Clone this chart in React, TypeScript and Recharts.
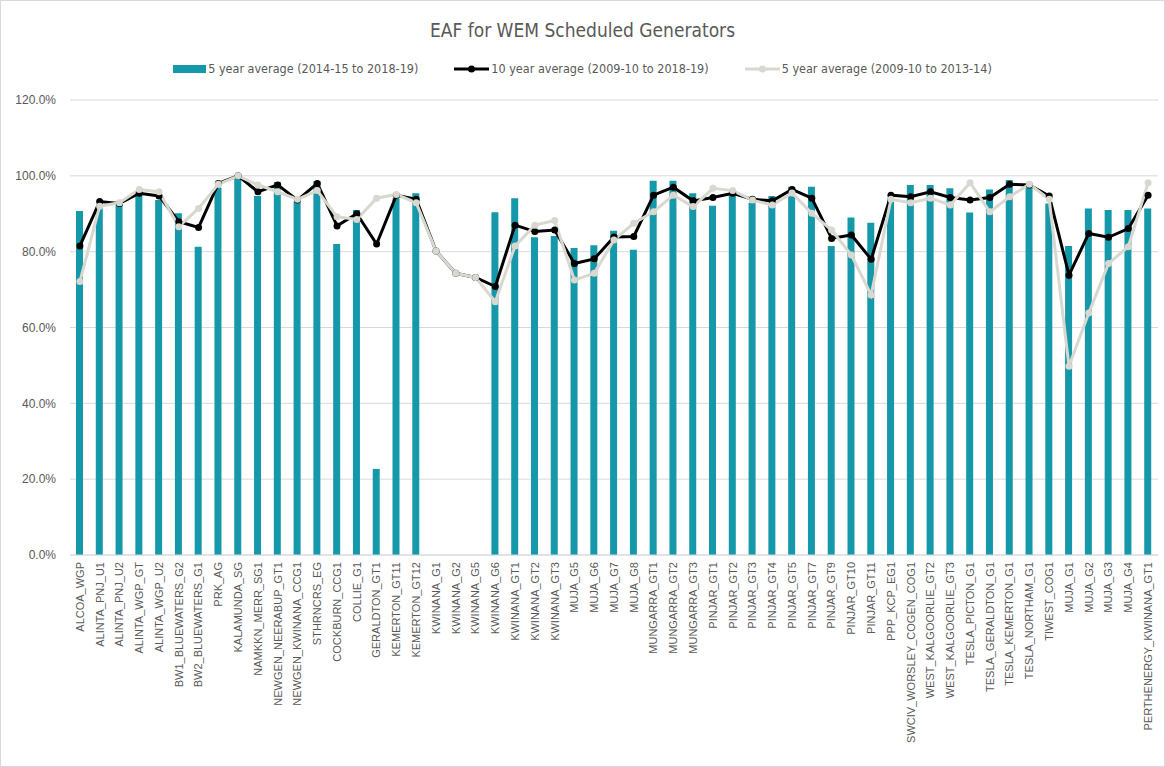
import React from 'react';
import {
  ComposedChart,
  Bar,
  Line,
  XAxis,
  YAxis,
  CartesianGrid,
} from 'recharts';

// Generator names along the x axis
const generators = [
  'ALCOA_WGP', 'ALINTA_PNJ_U1', 'ALINTA_PNJ_U2', 'ALINTA_WGP_GT', 'ALINTA_WGP_U2',
  'BW1_BLUEWATERS_G2', 'BW2_BLUEWATERS_G1', 'PRK_AG', 'KALAMUNDA_SG', 'NAMKKN_MERR_SG1',
  'NEWGEN_NEERABUP_GT1', 'NEWGEN_KWINANA_CCG1', 'STHRNCRS_EG', 'COCKBURN_CCG1', 'COLLIE_G1',
  'GERALDTON_GT1', 'KEMERTON_GT11', 'KEMERTON_GT12', 'KWINANA_G1', 'KWINANA_G2',
  'KWINANA_G5', 'KWINANA_G6', 'KWINANA_GT1', 'KWINANA_GT2', 'KWINANA_GT3',
  'MUJA_G5', 'MUJA_G6', 'MUJA_G7', 'MUJA_G8', 'MUNGARRA_GT1',
  'MUNGARRA_GT2', 'MUNGARRA_GT3', 'PINJAR_GT1', 'PINJAR_GT2', 'PINJAR_GT3',
  'PINJAR_GT4', 'PINJAR_GT5', 'PINJAR_GT7', 'PINJAR_GT9', 'PINJAR_GT10',
  'PINJAR_GT11', 'PPP_KCP_EG1', 'SWCIV_WORSLEY_COGEN_COG1', 'WEST_KALGOORLIE_GT2', 'WEST_KALGOORLIE_GT3',
  'TESLA_PICTON_G1', 'TESLA_GERALDTON_G1', 'TESLA_KEMERTON_G1', 'TESLA_NORTHAM_G1', 'TIWEST_COG1',
  'MUJA_G1', 'MUJA_G2', 'MUJA_G3', 'MUJA_G4', 'PERTHENERGY_KWINANA_GT1',
];

// 5 year average (2014-15 to 2018-19), % — bars
const avg5Recent: (number | null)[] = [
  90.7, 92.0, 92.5, 95.4, 93.6,
  90.1, 81.3, 96.9, 99.3, 94.7,
  98.4, 93.2, 98.6, 82.0, 91.0,
  22.7, 94.1, 95.4, null, null,
  null, 90.4, 94.1, 83.8, 84.1,
  81.0, 81.7, 85.5, 80.5, 98.7,
  98.7, 95.4, 92.1, 94.9, 92.9,
  94.7, 97.1, 97.1, 81.5, 89.0,
  87.6, 94.1, 97.6, 97.6, 96.7,
  90.3, 96.4, 98.9, 97.6, 92.7,
  81.5, 91.4, 91.0, 91.0, 91.4,
];

// 10 year average (2009-10 to 2018-19), % — black line
const avg10: number[] = [
  81.5, 93.2, 92.7, 95.4, 94.7,
  87.9, 86.4, 98.0, 100.0, 95.8,
  97.6, 93.6, 98.0, 86.8, 90.0,
  82.0, 94.9, 93.8, 80.2, 74.3,
  73.2, 70.8, 87.0, 85.3, 85.7,
  76.9, 78.1, 83.9, 84.0, 94.9,
  97.0, 93.4, 94.3, 95.4, 93.8,
  93.4, 96.4, 94.1, 83.5, 84.4,
  78.0, 94.9, 94.5, 95.8, 94.3,
  93.6, 94.3, 97.8, 97.6, 94.7,
  73.8, 84.8, 83.8, 86.1, 94.9,
];

// 5 year average (2009-10 to 2013-14), % — grey line
const avg5Early: number[] = [
  72.1, 92.0, 92.9, 96.4, 95.8,
  86.6, 91.4, 97.8, 100.0, 97.6,
  95.8, 93.8, 96.1, 89.2, 88.5,
  94.1, 95.1, 92.9, 80.2, 74.3,
  73.2, 66.8, 81.5, 87.0, 88.2,
  72.5, 74.3, 83.1, 87.5, 90.5,
  94.9, 91.9, 96.7, 96.1, 93.6,
  92.3, 95.5, 90.1, 85.7, 79.1,
  68.6, 93.8, 92.9, 94.1, 92.3,
  98.2, 90.5, 94.5, 97.8, 93.8,
  49.8, 63.8, 76.9, 81.3, 98.2,
];

const yTicks = [0, 20, 40, 60, 80, 100, 120];

const TEAL = '#1598a9';
const BLACK = '#000000';
const GREY = '#d8d7d0';
const TEXT = '#595959';
const NARROW = "'DejaVu Sans Condensed', 'Liberation Sans Narrow', 'Liberation Sans', sans-serif";

const data = generators.map((name, i) => ({
  name,
  recent: avg5Recent[i],
  ten: avg10[i],
  early: avg5Early[i],
}));

const XTick = (props: any) => {
  const { x, y, payload } = props;
  return (
    <g transform={`translate(${x},${y})`}>
      <text
        transform="rotate(-90)"
        textAnchor="end"
        dy="0.35em"
        fill={TEXT}
        fontSize={11}
        fontFamily="'Liberation Sans', Arial, sans-serif"
      >
        {payload.value}
      </text>
    </g>
  );
};

const legendItems = [
  { label: '5 year average (2014-15 to 2018-19)', kind: 'bar', color: TEAL },
  { label: '10 year average (2009-10 to 2018-19)', kind: 'line', color: BLACK },
  { label: '5 year average (2009-10 to 2013-14)', kind: 'line', color: GREY },
];

export default function App() {
  return (
    <div style={{ position: 'absolute', left: 0, top: 0, width: 1165, height: 767, background: '#fff', boxSizing: 'border-box', border: '1px solid #d9d9d9' }}>
      <div style={{ position: 'absolute', left: 0, right: 0, top: 18, textAlign: 'center', fontSize: 19, color: TEXT, fontFamily: NARROW }}>
        EAF for WEM Scheduled Generators
      </div>
      <div style={{ position: 'absolute', left: 0, right: 0, top: 60, display: 'flex', justifyContent: 'center', gap: 36, fontSize: 12.5, color: TEXT, fontFamily: NARROW }}>
        {legendItems.map((it) => (
          <div key={it.label} style={{ display: 'flex', alignItems: 'center', gap: 2 }}>
            {it.kind === 'bar' ? (
              <svg width={33} height={10}><rect x={0} y={1} width={33} height={8} fill={it.color} /></svg>
            ) : (
              <svg width={35} height={10}>
                <line x1={0} y1={5} x2={35} y2={5} stroke={it.color} strokeWidth={3} />
                <circle cx={17.5} cy={5} r={3.5} fill={it.color} />
              </svg>
            )}
            <span>{it.label}</span>
          </div>
        ))}
      </div>
      <ComposedChart
        width={1163}
        height={765}
        data={data}
        margin={{ top: 99, right: 6, bottom: 0, left: 0 }}
        barCategoryGap={0}
        style={{ position: 'absolute', left: 0, top: 0 }}
      >
        <CartesianGrid vertical={false} stroke="#d9d9d9" />
        <XAxis
          dataKey="name"
          interval={0}
          height={211}
          tick={<XTick />}
          tickLine={false}
          tickSize={0}
          tickMargin={7}
          axisLine={{ stroke: '#d9d9d9' }}
        />
        <YAxis
          domain={[0, 120]}
          ticks={yTicks}
          width={69}
          tickSize={0}
          tickMargin={14}
          tickLine={false}
          axisLine={false}
          tickFormatter={(v: number) => `${v.toFixed(1)}%`}
          tick={{ fill: TEXT, fontSize: 12, fontFamily: "'Liberation Sans', Arial, sans-serif" }}
        />
        <Bar dataKey="recent" name="5 year average (2014-15 to 2018-19)" fill={TEAL} barSize={7} isAnimationActive={false} />
        <Line
          dataKey="ten"
          name="10 year average (2009-10 to 2018-19)"
          stroke={BLACK}
          strokeWidth={3}
          dot={{ r: 3.5, fill: BLACK, stroke: BLACK, strokeWidth: 0 }}
          activeDot={false}
          isAnimationActive={false}
        />
        <Line
          dataKey="early"
          name="5 year average (2009-10 to 2013-14)"
          stroke={GREY}
          strokeWidth={3}
          dot={{ r: 3.5, fill: GREY, stroke: GREY, strokeWidth: 0 }}
          activeDot={false}
          isAnimationActive={false}
        />
      </ComposedChart>
    </div>
  );
}
